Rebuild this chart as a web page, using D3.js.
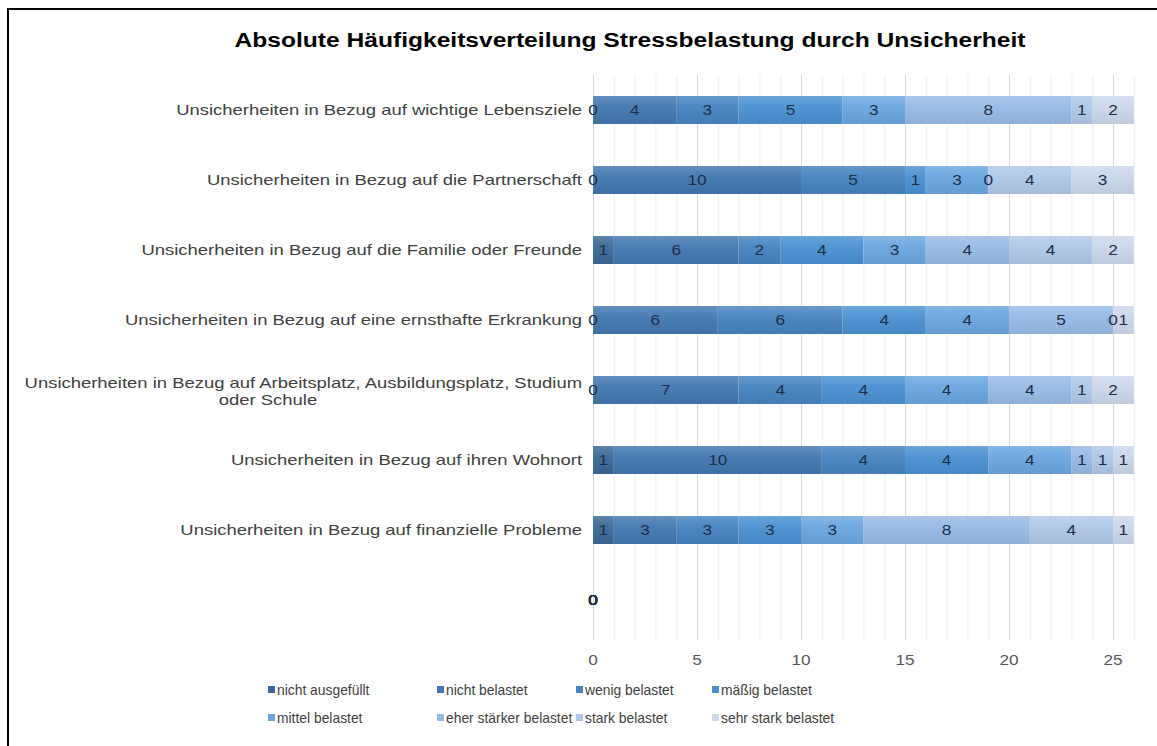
<!DOCTYPE html>
<html>
<head>
<meta charset="utf-8">
<script src="https://cdn.jsdelivr.net/npm/d3@7"></script>
<style>
html,body{margin:0;padding:0;background:#fff;}
svg{display:block;font-family:"Liberation Sans",Arial,sans-serif;}
</style>
</head>
<body>
<svg id="chart" width="1157" height="746"></svg>
<script>
const title = "Absolute Häufigkeitsverteilung Stressbelastung durch Unsicherheit";
const categories = [
  "Unsicherheiten in Bezug auf wichtige Lebensziele",
  "Unsicherheiten in Bezug auf die Partnerschaft",
  "Unsicherheiten in Bezug auf die Familie oder Freunde",
  "Unsicherheiten in Bezug auf eine ernsthafte Erkrankung",
  "Unsicherheiten in Bezug auf Arbeitsplatz, Ausbildungsplatz, Studium|oder Schule",
  "Unsicherheiten in Bezug auf ihren Wohnort",
  "Unsicherheiten in Bezug auf finanzielle Probleme",
  " "
];
const seriesNames = ["nicht ausgefüllt","nicht belastet","wenig belastet","mäßig belastet",
  "mittel belastet","eher stärker belastet","stark belastet","sehr stark belastet"];
const nichtAusgefuellt = [0,0,1,0,0,1,1,0];
const nichtBelastet    = [4,10,6,6,7,10,3,0];
const wenigBelastet    = [3,5,2,6,4,4,3,0];
const maessigBelastet  = [5,1,4,4,4,4,3,0];
const mittelBelastet   = [3,3,3,4,4,4,3,0];
const eherStaerker     = [8,0,4,5,4,1,8,0];
const starkBelastet    = [1,4,4,0,1,1,4,0];
const sehrStark        = [2,3,2,1,2,1,1,0];
const seriesValues = [nichtAusgefuellt,nichtBelastet,wenigBelastet,maessigBelastet,
  mittelBelastet,eherStaerker,starkBelastet,sehrStark];
const colors = ["#3b6896","#4277b0","#4683c0","#4a90d2","#6ba6df","#97bae4","#afc7e7","#cbd7ea"];
const xTicks = [0,5,10,15,20,25];
const xMax = 26;

const SX = 1.23; // horizontal stretch of the original picture's text

const svg = d3.select("#chart");

function stretched(parent, xx, yy, s){
  return parent.append("g").attr("transform",`translate(${xx},${yy}) scale(${s},1)`)
    .append("text").attr("x",0).attr("y",0);
}

// frame
svg.append("rect").attr("x",8).attr("y",9).attr("width",1200).attr("height",800)
  .attr("fill","none").attr("stroke","#000").attr("stroke-width",2);

const x = d3.scaleLinear().domain([0,xMax]).range([593,593+20.8*xMax]);
const y = d3.scaleBand().domain(categories).range([75,635]).paddingInner(0.6).paddingOuter(0.3);

// gradients
const defs = svg.append("defs");
colors.forEach((c,i)=>{
  const g = defs.append("linearGradient").attr("id","g"+i).attr("x1",0).attr("y1",0).attr("x2",0).attr("y2",1);
  g.append("stop").attr("offset","0%").attr("stop-color",d3.interpolateRgb(c,"#fff")(0.18));
  g.append("stop").attr("offset","35%").attr("stop-color",d3.interpolateRgb(c,"#fff")(0.05));
  g.append("stop").attr("offset","100%").attr("stop-color",d3.interpolateRgb(c,"#000")(0.06));
});

// grid
const gridTop = 75, gridBottom = 640;
svg.append("g").selectAll("line").data(d3.range(0,xMax+1)).join("line")
  .attr("x1",d=>x(d)+0.5).attr("x2",d=>x(d)+0.5).attr("y1",gridTop).attr("y2",gridBottom)
  .attr("stroke",d=>d%5===0?"#d9d9d9":"#eeeeee").attr("stroke-width",1);

// stack
const rows = categories.map((c,i)=>{
  const o = {cat:c};
  seriesNames.forEach((s,j)=>o[s]=seriesValues[j][i]);
  return o;
});
const stacked = d3.stack().keys(seriesNames)(rows);

const bars = svg.append("g");
stacked.forEach((layer,j)=>{
  bars.append("g").selectAll("rect").data(layer).join("rect")
    .attr("x",d=>x(d[0])).attr("width",d=>x(d[1])-x(d[0]))
    .attr("y",d=>y(d.data.cat)).attr("height",y.bandwidth())
    .attr("fill","url(#g"+j+")");
});
// labels
const lab = svg.append("g").attr("font-size",14).attr("fill","#1d2f48").attr("text-anchor","middle");
stacked.forEach((layer,j)=>{
  layer.forEach(d=>{
    stretched(lab,(x(d[0])+x(d[1]))/2, y(d.data.cat)+y.bandwidth()/2+5, SX).text(d[1]-d[0]);
  });
});

// category labels
const cl = svg.append("g").attr("font-size",15).attr("fill","#404040");
categories.forEach(c=>{
  const parts = c.split("|");
  const cy = y(c)+y.bandwidth()/2;
  if(parts.length===1){
    stretched(cl,582,cy+5,SX).attr("text-anchor","end").text(c.trim());
  } else {
    stretched(cl,582,cy-2,SX).attr("text-anchor","end").text(parts[0]);
    stretched(cl,268,cy+15,SX).attr("text-anchor","middle").text(parts[1]);
  }
});

// x axis labels
const ax = svg.append("g").attr("font-size",14).attr("fill","#595959").attr("text-anchor","middle");
xTicks.forEach(t=>stretched(ax,x(t),665,SX).text(t));

// title
stretched(svg,630,47,SX).attr("text-anchor","middle")
  .attr("font-size",20).attr("font-weight","bold").attr("fill","#000").text(title);

// legend
const legX = [268,437,576,712];
const legY = [690,718];
const lg = svg.append("g").attr("font-size",14).attr("fill","#404040");
seriesNames.forEach((s,i)=>{
  const cx = legX[i%4], cy = legY[Math.floor(i/4)];
  lg.append("rect").attr("x",cx).attr("y",cy-4).attr("width",7).attr("height",7).attr("fill",colors[i]);
  stretched(lg,cx+9,cy+5,0.99).text(s);
});
</script>
</body>
</html>
